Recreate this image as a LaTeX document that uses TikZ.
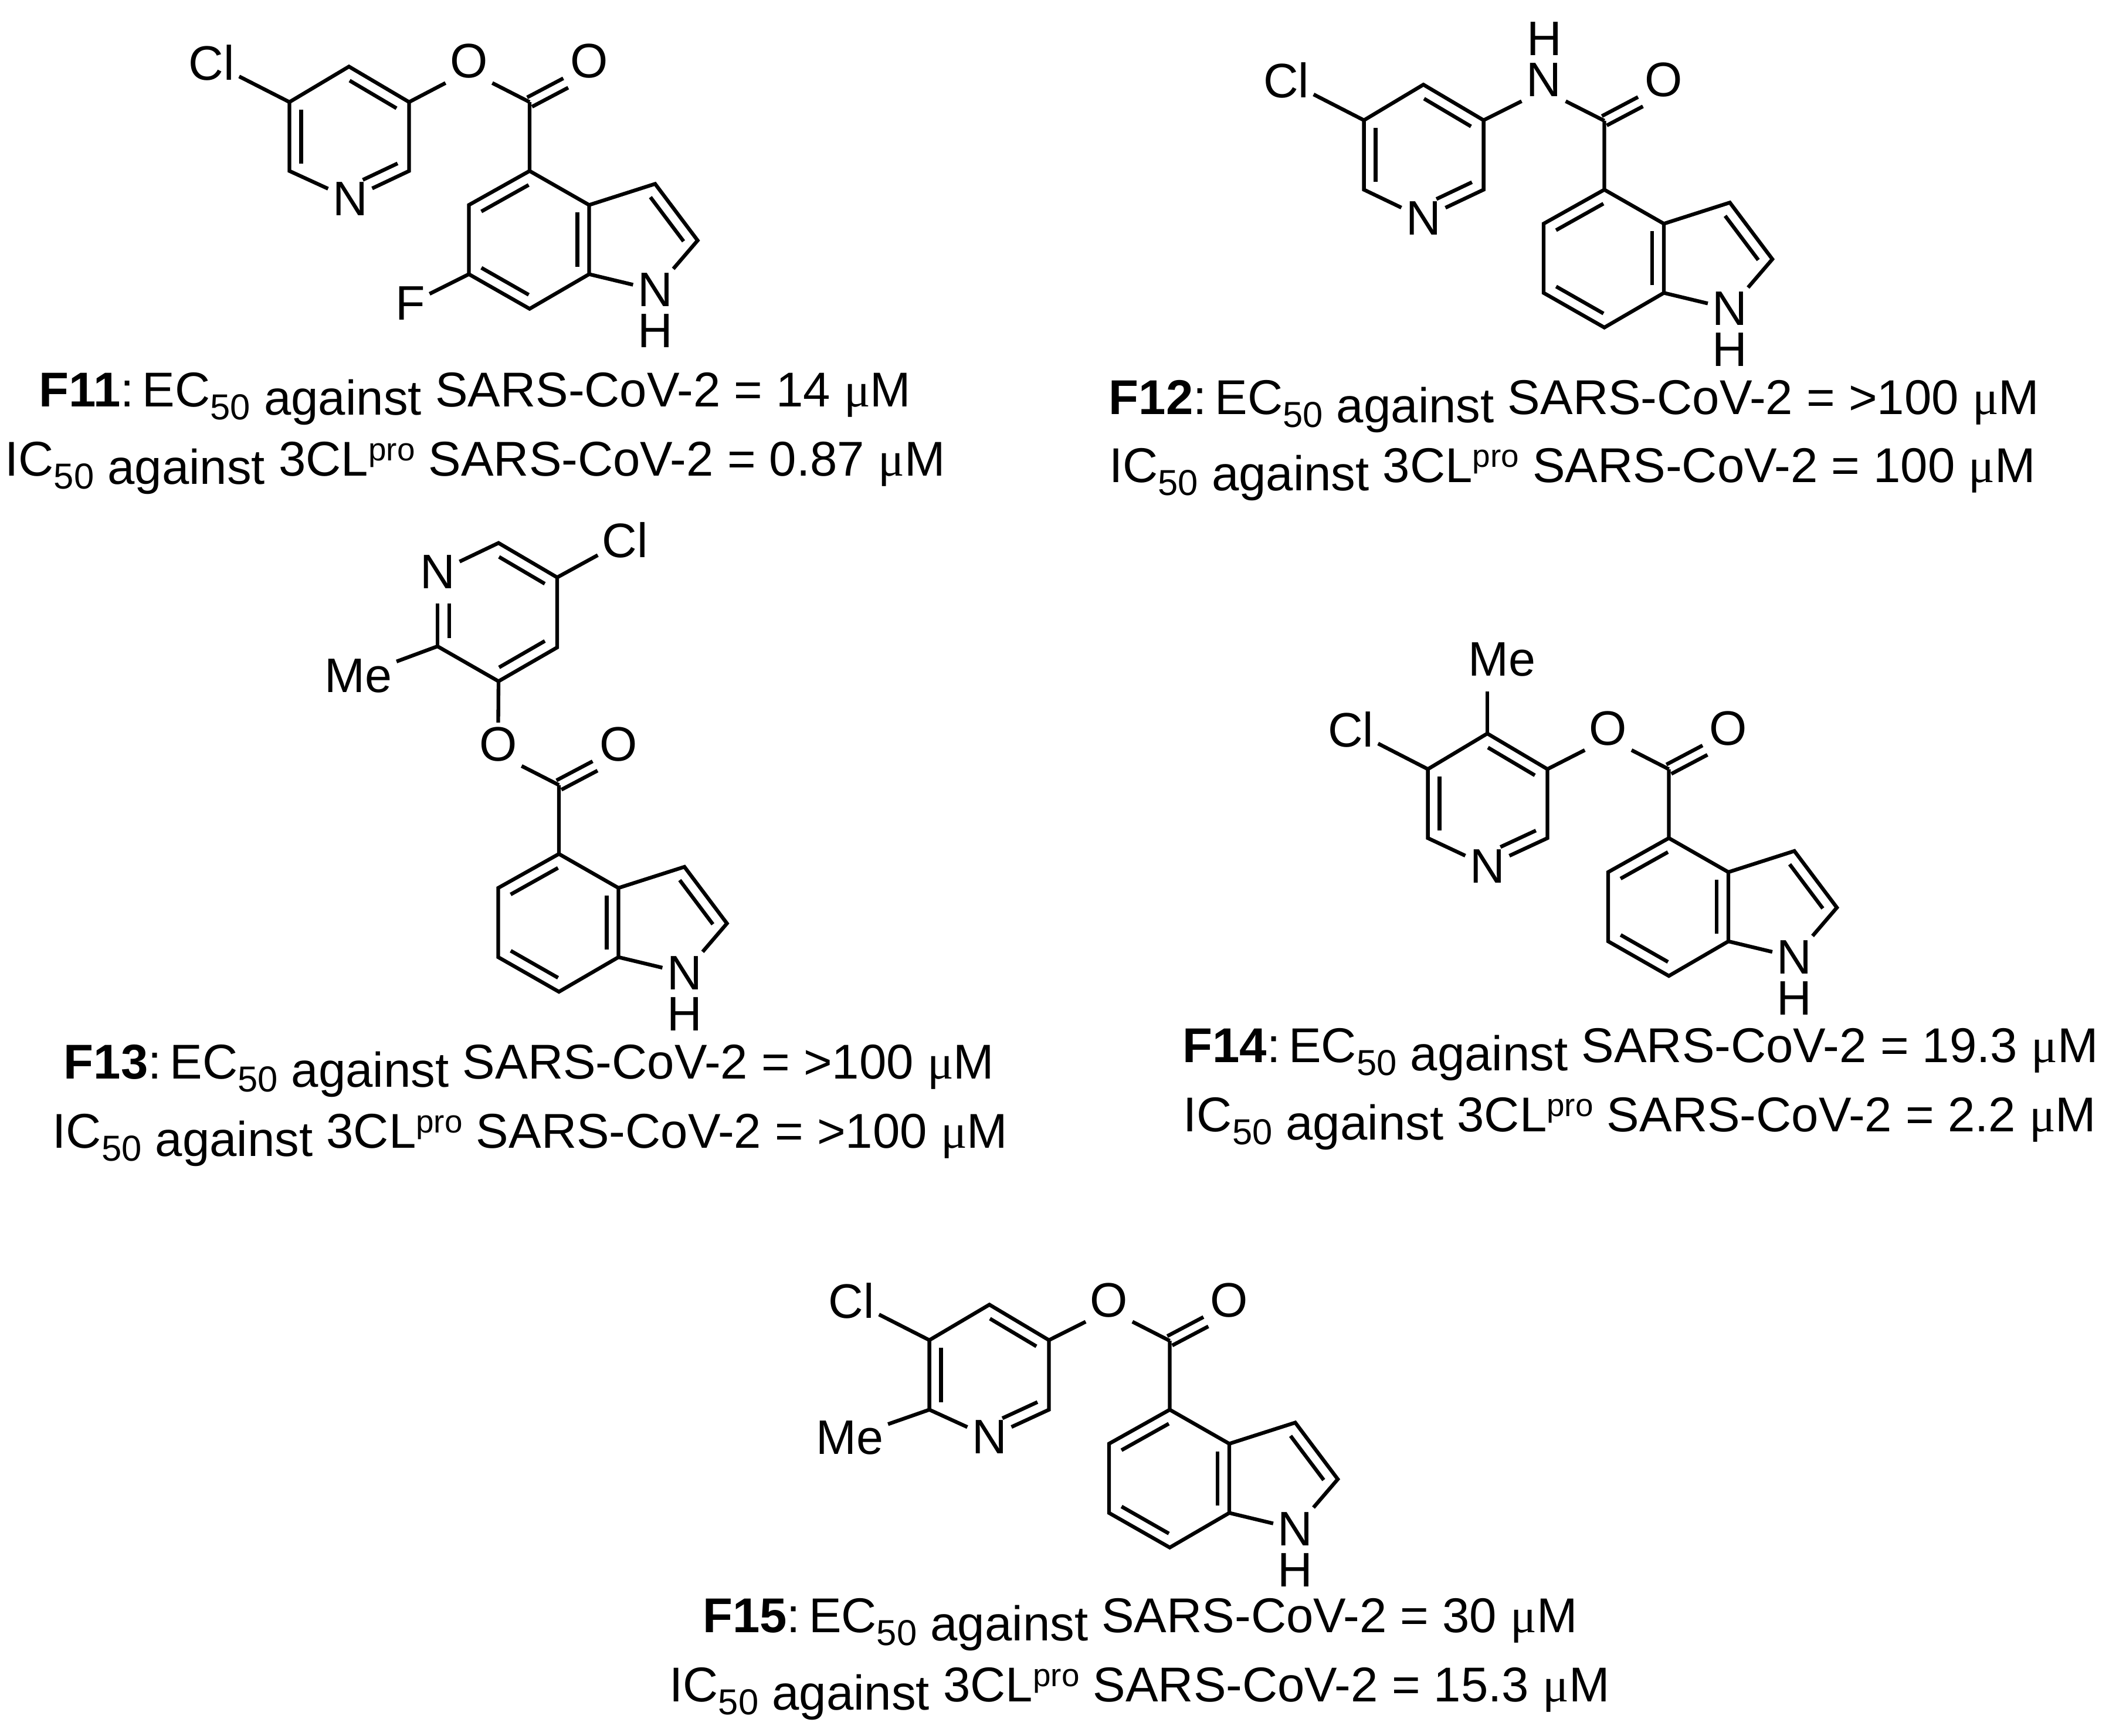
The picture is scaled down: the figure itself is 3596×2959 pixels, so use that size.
\documentclass[tikz,border=0pt]{standalone}
\usepackage{fontspec}
\setmainfont{Liberation Sans}
\newfontfamily\mufont{Liberation Serif}
\usetikzlibrary{calc}

\tikzset{
  bond/.style={line width=1.8pt},
  atom/.style={font=\fontsize{23.5}{27}\selectfont, inner sep=2pt},
  capnode/.style={font=\fontsize{23.7}{27}\selectfont, inner sep=0pt, anchor=base}
}

\newcommand{\lowsub}[1]{\raisebox{-.22cm}{\fontsize{17.5}{18}\selectfont #1}}
\newcommand{\highsup}[1]{\raisebox{.26cm}{\fontsize{15.6}{16}\selectfont #1}}
\newcommand{\drop}[1]{\raisebox{-.14cm}{#1}}
\newcommand{\uM}{{\mufont μ}M}
\newcommand{\eclabel}[2]{\textbf{#1}:\hspace{.14cm}EC\lowsub{50} \drop{against} SARS-CoV-2 = #2 \uM}
\newcommand{\iclabel}[1]{IC\lowsub{50} \drop{against} 3CL\highsup{pro} SARS-CoV-2 = #1 \uM}

% second line of a double bond, on the left of the way from #2 to #3
\newcommand{\innerbond}[3][.11]{\draw[bond] ($(#2)!#1!(#3)!.2cm!90:(#3)$) -- ($(#3)!.11!(#2)!-.2cm!90:(#2)$);}
\newcommand{\twinbond}[2]{
  \draw[bond] ($(#1)!.09cm!90:(#2)$) -- ($(#2)!-.09cm!90:(#1)$);
  \draw[bond] ($(#1)!-.09cm!90:(#2)$) -- ($(#2)!.09cm!90:(#1)$);
}

% indole with the carbonyl on C4, placed by C4
\newcommand{\indolecore}[3]{
  \begin{scope}[shift={(#1,#2)}]
    \coordinate (C4) at (0,0);
    \coordinate (C5) at (-103.5,58);
    \coordinate (C6) at (-103.5,176);
    \coordinate (C7) at (0,235);
    \coordinate (C7a) at (101.5,176);
    \coordinate (C3a) at (101.5,58);
    \coordinate (C3) at (214,22);
    \coordinate (C2) at (286.5,118.5);
    \coordinate (Cc) at (0,-117.5);
    \node[atom] (N1) at (214,203) {N};
    \node[atom, inner sep=0pt] (H1) at (214,273) {H};
    \node[atom] (link) at (-103.5,-187) {#3};
    \node[atom] (Od) at (101.5,-187) {O};
  \end{scope}
  \draw[bond] (Cc) -- (C4) -- (C5) -- (C6) -- (C7) -- (C7a) -- (C3a) -- (C4);
  \draw[bond] (C3a) -- (C3) -- (C2) -- (N1);
  \draw[bond] (C7a) -- (N1);
  \draw[bond] (Cc) -- (link.south east);
  \twinbond{Cc}{Od.south west}
  \innerbond{C4}{C5}
  \innerbond{C6}{C7}
  \innerbond{C7a}{C3a}
  \innerbond{C2}{C3}
}

\begin{document}
\begin{tikzpicture}[x=0.01cm, y=-0.01cm]
  \useasboundingbox (0,0) rectangle (3596,2959);

  % F11
  \begin{scope}[name prefix=f11-]
    \indolecore{903}{291.5}{O}
    \coordinate (a) at (493.5,174);
    \coordinate (b) at (595,113.5);
    \coordinate (c) at (697.5,174);
    \coordinate (d) at (697.5,291.5);
    \coordinate (e) at (493.5,291.5);
    \node[atom] (N) at (597,339) {N};
    \node[atom] (Cl) at (361,106.5) {Cl};
    \node[atom] (F) at (699.5,517.5) {F};
    \draw[bond] (N) -- (e) -- (a) -- (b) -- (c) -- (d) -- (N);
    \draw[bond] (a) -- (Cl);
    \draw[bond] (c) -- (link.south west);
    \draw[bond] (C6) -- (F);
    \innerbond{c}{b}
    \innerbond{a}{e}
    \innerbond[.3]{N}{d}
    \node[capnode] (ec) at (810,693) {\eclabel{F11}{14}};
    \node[capnode] (ic) at (810,811) {\iclabel{0.87}};
  \end{scope}

  % F12
  \begin{scope}[name prefix=f12-]
    \indolecore{2735.5}{323.4}{N}
    \coordinate (a) at (2325.6,205);
    \coordinate (b) at (2427,144.3);
    \coordinate (c) at (2529.6,205);
    \coordinate (d) at (2529.6,323.4);
    \coordinate (e) at (2325.6,323.4);
    \node[atom] (N) at (2427,372) {N};
    \node[atom] (Cl) at (2193,137) {Cl};
    \node[atom, inner sep=0pt] (H) at (2633,66) {H};
    \draw[bond] (N) -- (e) -- (a) -- (b) -- (c) -- (d) -- (N);
    \draw[bond] (a) -- (Cl);
    \draw[bond] (c) -- (link.south west);
    \innerbond{c}{b}
    \innerbond{a}{e}
    \innerbond[.3]{N}{d}
    \node[capnode] (ec) at (2684,706) {\eclabel{F12}{>100}};
    \node[capnode] (ic) at (2681,822) {\iclabel{100}};
  \end{scope}

  % F13
  \begin{scope}[name prefix=f13-]
    \indolecore{953}{1456}{O}
    \coordinate (a) at (850,1161.6);
    \coordinate (b) at (950,1103.9);
    \coordinate (c) at (950,984.5);
    \coordinate (d) at (850,925.8);
    \coordinate (e) at (746,1102);
    \node[atom] (N) at (746,975.5) {N};
    \node[atom] (Cl) at (1066,921) {Cl};
    \node[atom] (Me) at (611,1152) {Me};
    \draw[bond] (e) -- (a) -- (b) -- (c) -- (d) -- (N);
    \draw[bond, shorten >=5pt] (e) -- (N);
    \draw[bond] (c) -- (Cl);
    \draw[bond] (e) -- (Me);
    \draw[bond] (a) -- (link.north);
    \innerbond{a}{b}
    \innerbond{c}{d}
    \innerbond[.42]{N}{e}
    \node[capnode] (ec) at (902,1839) {\eclabel{F13}{>100}};
    \node[capnode] (ic) at (904,1957) {\iclabel{>100}};
  \end{scope}

  % F14
  \begin{scope}[name prefix=f14-]
    \indolecore{2845.5}{1429}{O}
    \coordinate (a) at (2434.6,1311.4);
    \coordinate (b) at (2536,1250.7);
    \coordinate (c) at (2638.5,1311.4);
    \coordinate (d) at (2638.5,1429);
    \coordinate (e) at (2434.6,1429);
    \node[atom] (N) at (2536,1476.6) {N};
    \node[atom] (Cl) at (2303,1243.8) {Cl};
    \node[atom] (Me) at (2561,1124.4) {Me};
    \draw[bond] (N) -- (e) -- (a) -- (b) -- (c) -- (d) -- (N);
    \draw[bond] (a) -- (Cl);
    \draw[bond, shorten >=5pt] (b) -- (b |- Me.south);
    \draw[bond] (c) -- (link.south west);
    \innerbond{c}{b}
    \innerbond{a}{e}
    \innerbond[.3]{N}{d}
    \node[capnode] (ec) at (2797,1811) {\eclabel{F14}{19.3}};
    \node[capnode] (ic) at (2796,1929) {\iclabel{2.2}};
  \end{scope}

  % F15
  \begin{scope}[name prefix=f15-]
    \indolecore{1994.5}{2403.6}{O}
    \coordinate (a) at (1584.6,2285);
    \coordinate (b) at (1687,2224.5);
    \coordinate (c) at (1788.5,2285);
    \coordinate (d) at (1788.5,2403.6);
    \coordinate (e) at (1584.6,2403.6);
    \node[atom] (N) at (1687,2450.4) {N};
    \node[atom] (Cl) at (1452,2217.5) {Cl};
    \node[atom] (Me) at (1449,2451) {Me};
    \draw[bond] (N) -- (e) -- (a) -- (b) -- (c) -- (d) -- (N);
    \draw[bond] (a) -- (Cl);
    \draw[bond] (e) -- (Me);
    \draw[bond] (c) -- (link.south west);
    \innerbond{c}{b}
    \innerbond{a}{e}
    \innerbond[.3]{N}{d}
    \node[capnode] (ec) at (1944,2783) {\eclabel{F15}{30}};
    \node[capnode] (ic) at (1943,2901) {\iclabel{15.3}};
  \end{scope}
\end{tikzpicture}
\end{document}
